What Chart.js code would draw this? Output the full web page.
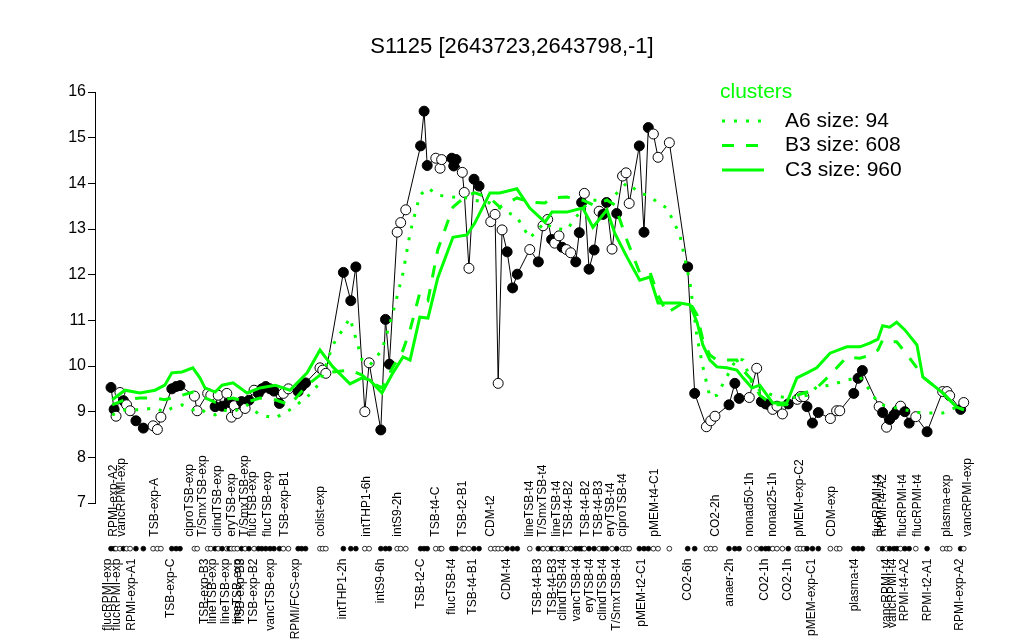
<!DOCTYPE html>
<html>
<head>
<meta charset="utf-8">
<script src="https://cdn.jsdelivr.net/npm/chart.js@4"></script>
<style>
  html, body { margin: 0; padding: 0; background: #fff; }
  #wrap { width: 1024px; height: 640px; }
</style>
</head>
<body>
<div id="wrap"><canvas id="myChart"></canvas></div>
<script>
const chartTitle = "S1125 [2643723,2643798,-1]";

// sample positions along the x axis, expression values, filled (1) / open (0) marker
const samplePos = [
  0, 0.8, 1.3, 2.3, 3.2, 4.0, 4.9, 6.4, 8.3, 10.8,
  11.9, 12.8, 15.6, 16.7, 17.7, 21.4, 22.1, 24.8, 25.6, 26.7,
  27.5, 28.5, 29.7, 30.3, 30.9, 31.6, 32.4, 33.5, 34.4, 35.4,
  36.7, 37.8, 38.7, 39.7, 40.8, 41.8, 43.2, 44.2, 45.5, 48.0,
  48.9, 49.9, 53.6, 54.3, 55.1, 59.6, 61.5, 62.8, 65.1, 66.2,
  69.2, 70.4, 71.4, 73.4, 74.3, 75.6, 79.4, 80.3, 81.1, 83.3,
  84.4, 84.8, 87.4, 87.9, 88.5, 90.1, 90.6, 91.8, 93.1, 94.4,
  97.4, 98.5, 99.3, 100.3, 101.6, 103.0, 104.2, 107.4, 109.6, 110.8,
  112.0, 113.0, 113.8, 114.9, 115.7, 116.8, 117.9, 119.2, 120.1, 120.7,
  121.4, 122.6, 123.9, 125.2, 126.2, 127.1, 128.5, 129.7, 131.2, 132.1,
  132.9, 135.5, 136.7, 137.8, 139.1, 140.3, 143.2, 147.9, 149.7, 152.7,
  153.8, 154.9, 158.5, 160.0, 161.1, 163.7, 165.6, 166.8, 167.9, 168.7,
  169.7, 170.8, 172.2, 173.7, 176.0, 176.8, 177.7, 178.5, 179.9, 181.4,
  184.5, 186.1, 186.9, 190.5, 191.6, 192.7, 197.0, 197.9, 198.9, 199.7,
  200.8, 201.6, 202.5, 203.6, 204.7, 206.4, 209.3, 213.3, 214.4, 215.1,
  217.9, 218.7
];
const sampleVal = [
  9.53, 9.05, 8.90, 9.42, 9.24, 9.15, 9.02, 8.80, 8.64, 8.69,
  8.61, 8.88, 9.50, 9.55, 9.57, 9.34, 9.02, 9.40, 9.36, 9.11,
  9.36, 9.12, 9.40, 9.20, 8.88, 9.13, 8.96, 9.22, 9.07, 9.25,
  9.47, 9.40, 9.50, 9.55, 9.50, 9.45, 9.18, 9.40, 9.50, 9.44,
  9.55, 9.63, 9.96, 9.91, 9.84, 12.05, 11.43, 12.17, 9.00, 10.07,
  8.60, 11.02, 10.04, 12.93, 13.14, 13.42, 14.82, 15.58, 14.39, 14.55,
  14.33, 14.52, 14.55, 14.38, 14.52, 14.24, 13.80, 12.14, 14.09, 13.94,
  13.16, 13.32, 9.62, 12.98, 12.50, 11.71, 12.01, 12.55, 12.28, 13.07,
  13.21, 12.77, 12.69, 12.85, 12.60, 12.55, 12.48, 12.28, 12.92, 13.58,
  13.78, 12.12, 12.54, 13.39, 13.32, 13.58, 12.56, 13.34, 14.16, 14.23,
  13.56, 14.82, 12.93, 15.22, 15.08, 14.57, 14.89, 12.17, 9.40, 8.67,
  8.80, 8.90, 9.15, 9.62, 9.29, 9.31, 9.95, 9.22, 9.17, 9.15,
  9.05, 9.12, 8.95, 9.17, 9.27, 9.33, 9.33, 9.11, 8.75, 8.98,
  8.85, 9.02, 9.02, 9.40, 9.73, 9.90, 9.11, 8.98, 8.66, 8.83,
  8.93, 9.02, 9.12, 9.00, 8.75, 8.89, 8.56, 9.44, 9.44, 9.35,
  9.05, 9.20
];
const sampleFilled = [
  1, 1, 0, 0, 1, 0, 0, 1, 1, 0,
  0, 0, 1, 1, 1, 0, 0, 0, 0, 1,
  0, 1, 0, 1, 0, 0, 0, 1, 0, 1,
  0, 1, 1, 1, 1, 1, 1, 0, 0, 1,
  1, 1, 0, 0, 0, 1, 1, 1, 0, 0,
  1, 1, 1, 0, 0, 0, 1, 1, 1, 0,
  0, 0, 1, 1, 1, 0, 0, 0, 1, 1,
  0, 0, 0, 0, 1, 1, 1, 0, 1, 0,
  0, 1, 0, 0, 1, 0, 0, 1, 1, 1,
  0, 1, 1, 0, 1, 1, 0, 1, 0, 0,
  0, 1, 1, 1, 0, 0, 0, 1, 1, 0,
  0, 0, 1, 1, 1, 0, 0, 1, 1, 1,
  0, 0, 0, 1, 0, 0, 0, 1, 1, 1,
  0, 0, 0, 1, 1, 1, 0, 1, 0, 1,
  1, 1, 0, 1, 1, 0, 1, 0, 0, 0,
  1, 0
];

// cluster mean profiles
const clusterPos = [
  0.3, 3.6, 7.4, 11.3, 13.8, 15.6, 18.2, 21.0, 22.8, 24.1,
  26.7, 28.5, 31.3, 34.9, 38.2, 42.1, 45.9, 50.3, 53.6, 56.9,
  61.3, 64.4, 66.4, 69.5, 72.3, 74.9, 76.7, 79.2, 81.3, 83.8,
  87.7, 91.3, 93.3, 97.2, 99.7, 104.1, 107.4, 111.3, 113.1, 116.9,
  121.0, 123.6, 127.2, 129.2, 132.3, 135.6, 138.2, 140.3, 142.6, 145.9,
  148.5, 150.3, 151.8, 153.6, 155.4, 157.9, 160.5, 162.1, 164.4, 166.4,
  169.7, 173.3, 175.9, 178.5, 181.0, 184.4, 188.7, 192.1, 194.6, 196.7,
  197.9, 199.7, 201.5, 203.6, 206.7, 208.2, 213.3, 216.9, 218.7
];
const clusterA6 = [
  8.93, 9.04, 9.04, 9.08, 8.99, 9.08, 9.15, 9.04, 9.08, 8.99,
  8.93, 9.04, 8.99, 9.15, 8.93, 8.86, 9.04, 9.32, 9.63, 10.46,
  11.05, 10.13, 10.02, 10.35, 11.16, 12.04, 12.91, 13.74, 13.90, 13.74,
  13.70, 13.68, 13.63, 13.57, 13.46, 13.26, 12.80, 13.15, 13.02, 12.98,
  13.46, 13.63, 13.63, 13.74, 14.01, 13.79, 13.72, 13.57, 13.46, 12.87,
  11.82, 10.63, 9.98, 9.32, 9.36, 9.76, 10.17, 10.13, 9.63, 9.47,
  9.36, 9.30, 9.32, 9.36, 9.54, 9.58, 9.69, 9.76, 9.47, 9.19,
  9.15, 9.10, 9.08, 9.04, 8.99, 8.97, 8.97, 9.10, 9.04
];
const clusterB3 = [
  9.15, 9.26, 9.30, 9.30, 9.26, 9.30, 9.36, 9.43, 9.36, 9.30,
  9.21, 9.26, 9.30, 9.21, 9.30, 9.26, 9.15, 9.58, 9.80, 9.87,
  9.91, 9.80, 9.65, 9.52, 9.98, 10.35, 10.79, 11.60, 11.44, 12.54,
  13.48, 13.74, 13.79, 13.68, 13.48, 13.68, 13.59, 13.57, 13.68, 13.70,
  13.63, 13.53, 13.63, 13.53, 12.76, 12.04, 12.06, 11.55, 11.16, 11.34,
  11.38, 11.12, 10.57, 10.24, 10.13, 10.13, 10.13, 9.91, 9.69, 9.36,
  9.15, 9.15, 9.36, 9.43, 9.52, 9.80, 10.20, 10.17, 10.24, 10.35,
  10.57, 10.53, 10.53, 10.31, 9.96, 9.76, 9.41, 9.10, 9.04
];
const clusterC3 = [
  9.26, 9.47, 9.41, 9.47, 9.58, 9.85, 9.87, 9.96, 9.74, 9.52,
  9.43, 9.58, 9.63, 9.41, 9.52, 9.58, 9.47, 9.85, 10.35, 9.98,
  9.61, 9.74, 9.69, 9.41, 9.85, 10.20, 10.13, 11.07, 11.05, 11.93,
  12.82, 12.87, 13.13, 13.79, 13.79, 13.88, 13.46, 13.15, 13.37, 13.37,
  13.46, 13.04, 13.42, 12.91, 12.39, 11.88, 11.95, 11.38, 11.38, 11.38,
  11.34, 10.96, 10.46, 10.13, 9.98, 9.96, 9.91, 9.74, 9.52, 9.58,
  9.19, 9.19, 9.74, 9.85, 9.96, 10.28, 10.42, 10.42, 10.50, 10.59,
  10.88, 10.85, 10.96, 10.79, 10.46, 9.76, 9.41, 9.10, 9.04
];
const clusterNames = ["A6 size: 94", "B3 size: 608", "C3 size: 960"];

// condition labels: upper row and lower row
const topLabels = [
  "RPMI-exp-A2", "vancRPMI-exp", "TSB-exp-A", "ciproTSB-exp", "T/SmxTSB-exp",
  "clindTSB-exp", "eryTSB-exp", "T/SmxTSB-exp", "flucTSB-exp", "flucTSB-exp",
  "TSB-exp-B1", "colist-exp", "intTHP1-6h", "intS9-2h", "TSB-t4-C",
  "TSB-t2-B1", "CDM-t2", "lineTSB-t4", "T/SmxTSB-t4", "lineTSB-t4",
  "TSB-t4-B2", "TSB-t4-B2", "TSB-t4-B3", "eryTSB-t4", "ciproTSB-t4",
  "pMEM-t4-C1", "CO2-2h", "nonad50-1h", "nonad25-1h", "pMEM-exp-C2",
  "CDM-exp", "flucRPMI-t4", "RPMI-t4-A2", "flucRPMI-t4", "flucRPMI-t4",
  "plasma-exp", "vancRPMI-exp"
];
const topLabelPos = [
  0.8, 2.8, 11.3, 20.3, 23.6,
  27.4, 31.0, 34.4, 36.4, 40.3,
  44.6, 53.8, 65.6, 73.6, 83.3,
  90.3, 97.4, 107.4, 110.8, 114.4,
  117.4, 121.8, 125.1, 128.2, 131.3,
  139.5, 155.1, 163.8, 169.7, 176.7,
  184.9, 196.7, 198.0, 203.1, 206.9,
  214.4, 219.7
];
const bottomLabels = [
  "flucRPMI-exp", "flucRPMI-exp", "RPMI-exp-A1", "TSB-exp-C", "TSB-exp-B3",
  "lineTSB-exp", "lineTSB-exp", "lineTSB-exp", "TSB-exp-B3", "TSB-exp-B2",
  "vancTSB-exp", "RPMI/FCS-exp", "intTHP1-2h", "intS9-6h", "TSB-t2-C",
  "flucTSB-t4", "TSB-t4-B1", "CDM-t4", "TSB-t4-B3", "TSB-t4-B3",
  "clindTSB-t4", "vancTSB-t4", "eryTSB-t4", "clindTSB-t4", "T/SmxTSB-t4",
  "pMEM-t2-C1", "CO2-6h", "anaer-2h", "CO2-1h", "CO2-1h",
  "pMEM-exp-C1", "plasma-t4", "vancRPMI-t4", "vancRPMI-t4", "RPMI-t4-A2",
  "RPMI-t2-A1", "RPMI-exp-A2"
];
const bottomLabelPos = [
  -0.8, 1.5, 5.4, 15.4, 24.1,
  26.2, 29.5, 32.6, 33.3, 36.7,
  41.0, 47.4, 59.5, 69.2, 79.5,
  87.4, 92.8, 101.5, 109.5, 113.3,
  115.9, 119.5, 122.8, 126.2, 129.7,
  136.2, 148.0, 158.7, 167.7, 173.6,
  179.7, 190.8, 199.0, 200.5, 203.6,
  209.5, 217.7
];

const dotRowLevel = 6;
const green = "#00ff00";
const font = "'Liberation Sans', Arial, sans-serif";

const decorations = {
  id: "decorations",
  afterDraw(chart) {
    const { ctx, scales: { x, y } } = chart;
    ctx.save();

    // title
    ctx.fillStyle = "black";
    ctx.font = "22px " + font;
    ctx.textAlign = "center";
    ctx.textBaseline = "middle";
    ctx.fillText(chartTitle, 512, 47);

    // legend
    ctx.textAlign = "left";
    ctx.font = "21px " + font;
    ctx.fillStyle = green;
    ctx.fillText("clusters", 720, 92);
    const dashes = [[3, 9], [12, 12], []];
    clusterNames.forEach((name, i) => {
      const ly = 121 + i * 24.5;
      ctx.strokeStyle = green;
      ctx.lineWidth = 3;
      ctx.setLineDash(dashes[i]);
      ctx.beginPath();
      ctx.moveTo(722, ly);
      ctx.lineTo(764, ly);
      ctx.stroke();
      ctx.setLineDash([]);
      ctx.fillStyle = "black";
      ctx.fillText(name, 785, ly);
    });

    // row of sample markers under the plot
    const rowY = y.getPixelForValue(dotRowLevel);
    ctx.lineWidth = 0.8;
    ctx.strokeStyle = "black";
    samplePos.forEach((p, i) => {
      ctx.beginPath();
      ctx.arc(x.getPixelForValue(p), rowY, 2.4, 0, Math.PI * 2);
      ctx.fillStyle = sampleFilled[i] ? "black" : "white";
      ctx.fill();
      ctx.stroke();
    });

    // condition labels
    ctx.font = "12px " + font;
    ctx.fillStyle = "black";
    ctx.textBaseline = "middle";
    topLabels.forEach((lab, i) => {
      ctx.save();
      ctx.translate(x.getPixelForValue(topLabelPos[i]), rowY - 12);
      ctx.rotate(-Math.PI / 2);
      ctx.textAlign = "left";
      ctx.fillText(lab, 0, 0);
      ctx.restore();
    });
    bottomLabels.forEach((lab, i) => {
      ctx.save();
      ctx.translate(x.getPixelForValue(bottomLabelPos[i]), rowY + 10);
      ctx.rotate(-Math.PI / 2);
      ctx.textAlign = "right";
      ctx.fillText(lab, 0, 0);
      ctx.restore();
    });

    ctx.restore();
  }
};

const ctx = document.getElementById("myChart");

const clusterLine = (values, dash) => ({
  data: clusterPos.map((p, i) => ({ x: p, y: values[i] })),
  showLine: true,
  borderColor: green,
  borderWidth: 3,
  borderDash: dash,
  pointRadius: 0,
  order: 1,
});

new Chart(ctx, {
  type: "scatter",
  data: {
    datasets: [
      clusterLine(clusterA6, [3, 9]),
      clusterLine(clusterB3, [12, 12]),
      clusterLine(clusterC3, []),
      {
        data: samplePos.map((p, i) => ({ x: p, y: sampleVal[i] })),
        showLine: true,
        borderColor: "black",
        borderWidth: 1,
        pointRadius: 5,
        pointBorderWidth: 1,
        pointBorderColor: "black",
        pointBackgroundColor: sampleFilled.map((f) => (f ? "black" : "white")),
        order: 2,
      },
    ],
  },
  options: {
    responsive: true,
    maintainAspectRatio: false,
    animation: false,
    events: [],
    layout: { padding: { top: 92, bottom: 137, left: 0, right: 24 } },
    plugins: {
      legend: { display: false },
      tooltip: { enabled: false },
      title: { display: false },
    },
    scales: {
      x: {
        type: "linear",
        min: -4.1,
        max: 228,
        display: false,
      },
      y: {
        min: 7,
        max: 16,
        afterFit: (scale) => {
          scale.width = 95;
        },
        ticks: {
          stepSize: 1,
          color: "black",
          padding: 2,
          font: { family: font, size: 16 },
        },
        grid: {
          drawOnChartArea: false,
          drawTicks: true,
          tickLength: 7,
          color: "black",
        },
        border: { display: true, color: "black" },
      },
    },
  },
  plugins: [decorations],
});
</script>
</body>
</html>
